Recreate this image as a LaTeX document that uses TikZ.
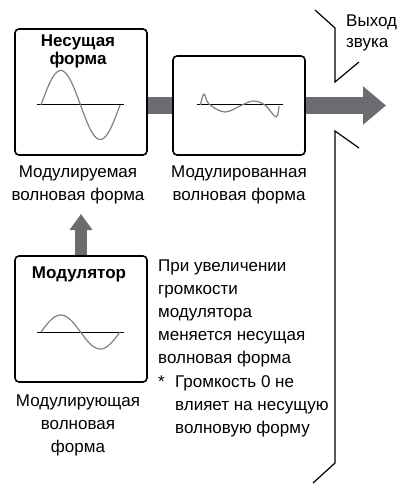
\documentclass[tikz,border=0pt]{standalone}
\usepackage{fontspec}
\setmainfont{Liberation Sans}
\usetikzlibrary{arrows.meta}
\definecolor{arrowgray}{RGB}{108,108,112}
\definecolor{wavegray}{RGB}{128,128,128}
\pgfdeclarelayer{bg}
\pgfsetlayers{bg,main}
\begin{document}
\begin{tikzpicture}[x=1pt,y=-1pt,
  box/.style={draw=black, line width=1.6pt, rounded corners=4pt, inner sep=0pt},
  lbl/.style={font=\fontsize{17}{23}\selectfont, inner sep=0pt, align=center, anchor=base},
  ttl/.style={font=\bfseries\fontsize{17}{18}\selectfont, inner sep=0pt, align=center, anchor=base},
  note/.style={font=\fontsize{17}{23}\selectfont, inner sep=0pt, align=left, anchor=base west},
  wave/.style={draw=wavegray, line width=1.2pt},
  axisline/.style={draw=black, line width=1pt},
  flow/.style={draw=arrowgray, line width=17pt},
  bracket/.style={draw=black, line width=1.2pt}]
\useasboundingbox (0,0) rectangle (401,500);

% boxes
\node[box, minimum width=132pt, minimum height=126pt] (carrier) at (81,92) {};
\node[box, minimum width=132pt, minimum height=99pt] (modulated) at (239,105.5) {};
\node[box, minimum width=132pt, minimum height=126pt] (modulator) at (81,319) {};

% titles (base anchor = baseline of last line)
\node[ttl] (carriertitle) at (78,65) {Несущая\\форма};
\node[ttl] (modtitle) at (79,278) {Модулятор};

% labels
\node[lbl] (carrierlbl) at (78,200) {Модулируемая\\волновая форма};
\node[lbl] (modulatedlbl) at (239,200) {Модулированная\\волновая форма};
\node[lbl] (modulatorlbl) at (78,452) {Модулирующая\\волновая\\форма};
\node[note, font=\fontsize{17}{21}\selectfont] (outlbl) at (346,48) {Выход\\звука};
\node[note] (info) at (158,363) {При увеличении\\громкости\\модулятора\\меняется несущая\\волновая форма};
\node[note] (star) at (158,387) {*};
\node[note] (infonote) at (175,433) {Громкость 0 не\\влияет на несущую\\волновую форму};

% waves
\draw[axisline] (37,105) -- (124,105);
\draw[wave] plot[domain=0:360, samples=80] ({41+\x/360*79}, {105-34.5*sin(\x)});
\draw[axisline] (37,332) -- (124,332);
\draw[wave] plot[domain=0:360, samples=80] ({41+\x/360*79}, {332-17*sin(\x)});
\draw[axisline] (197,105) -- (283,105);
\draw[wave] plot[smooth, tension=0.6] coordinates {(200.5,105) (204,94) (209,104) (225,112) (242,105) (253,101) (265,105) (276,117) (279,106)};

% connectors
\coordinate (outtip) at (386,105.5);
\coordinate (uptip) at (81,214);
\begin{pgfonlayer}{bg}
\draw[flow] (carrier.east |- modulated.west) -- (modulated.west);
\draw[flow, -{Triangle[length=23pt, width=37pt]}] (modulated.east) -- (outtip);
\draw[flow, line width=12pt, -{Triangle[length=16pt, width=22pt]}] (modulator.north) -- (uptip);
\end{pgfonlayer}

% speaker bracket
\draw[bracket] (315,10) -- (335,28) -- (335,82) -- (359,62);
\draw[bracket] (359,148) -- (335,131) -- (335,463) -- (313,483);
\end{tikzpicture}
\end{document}
